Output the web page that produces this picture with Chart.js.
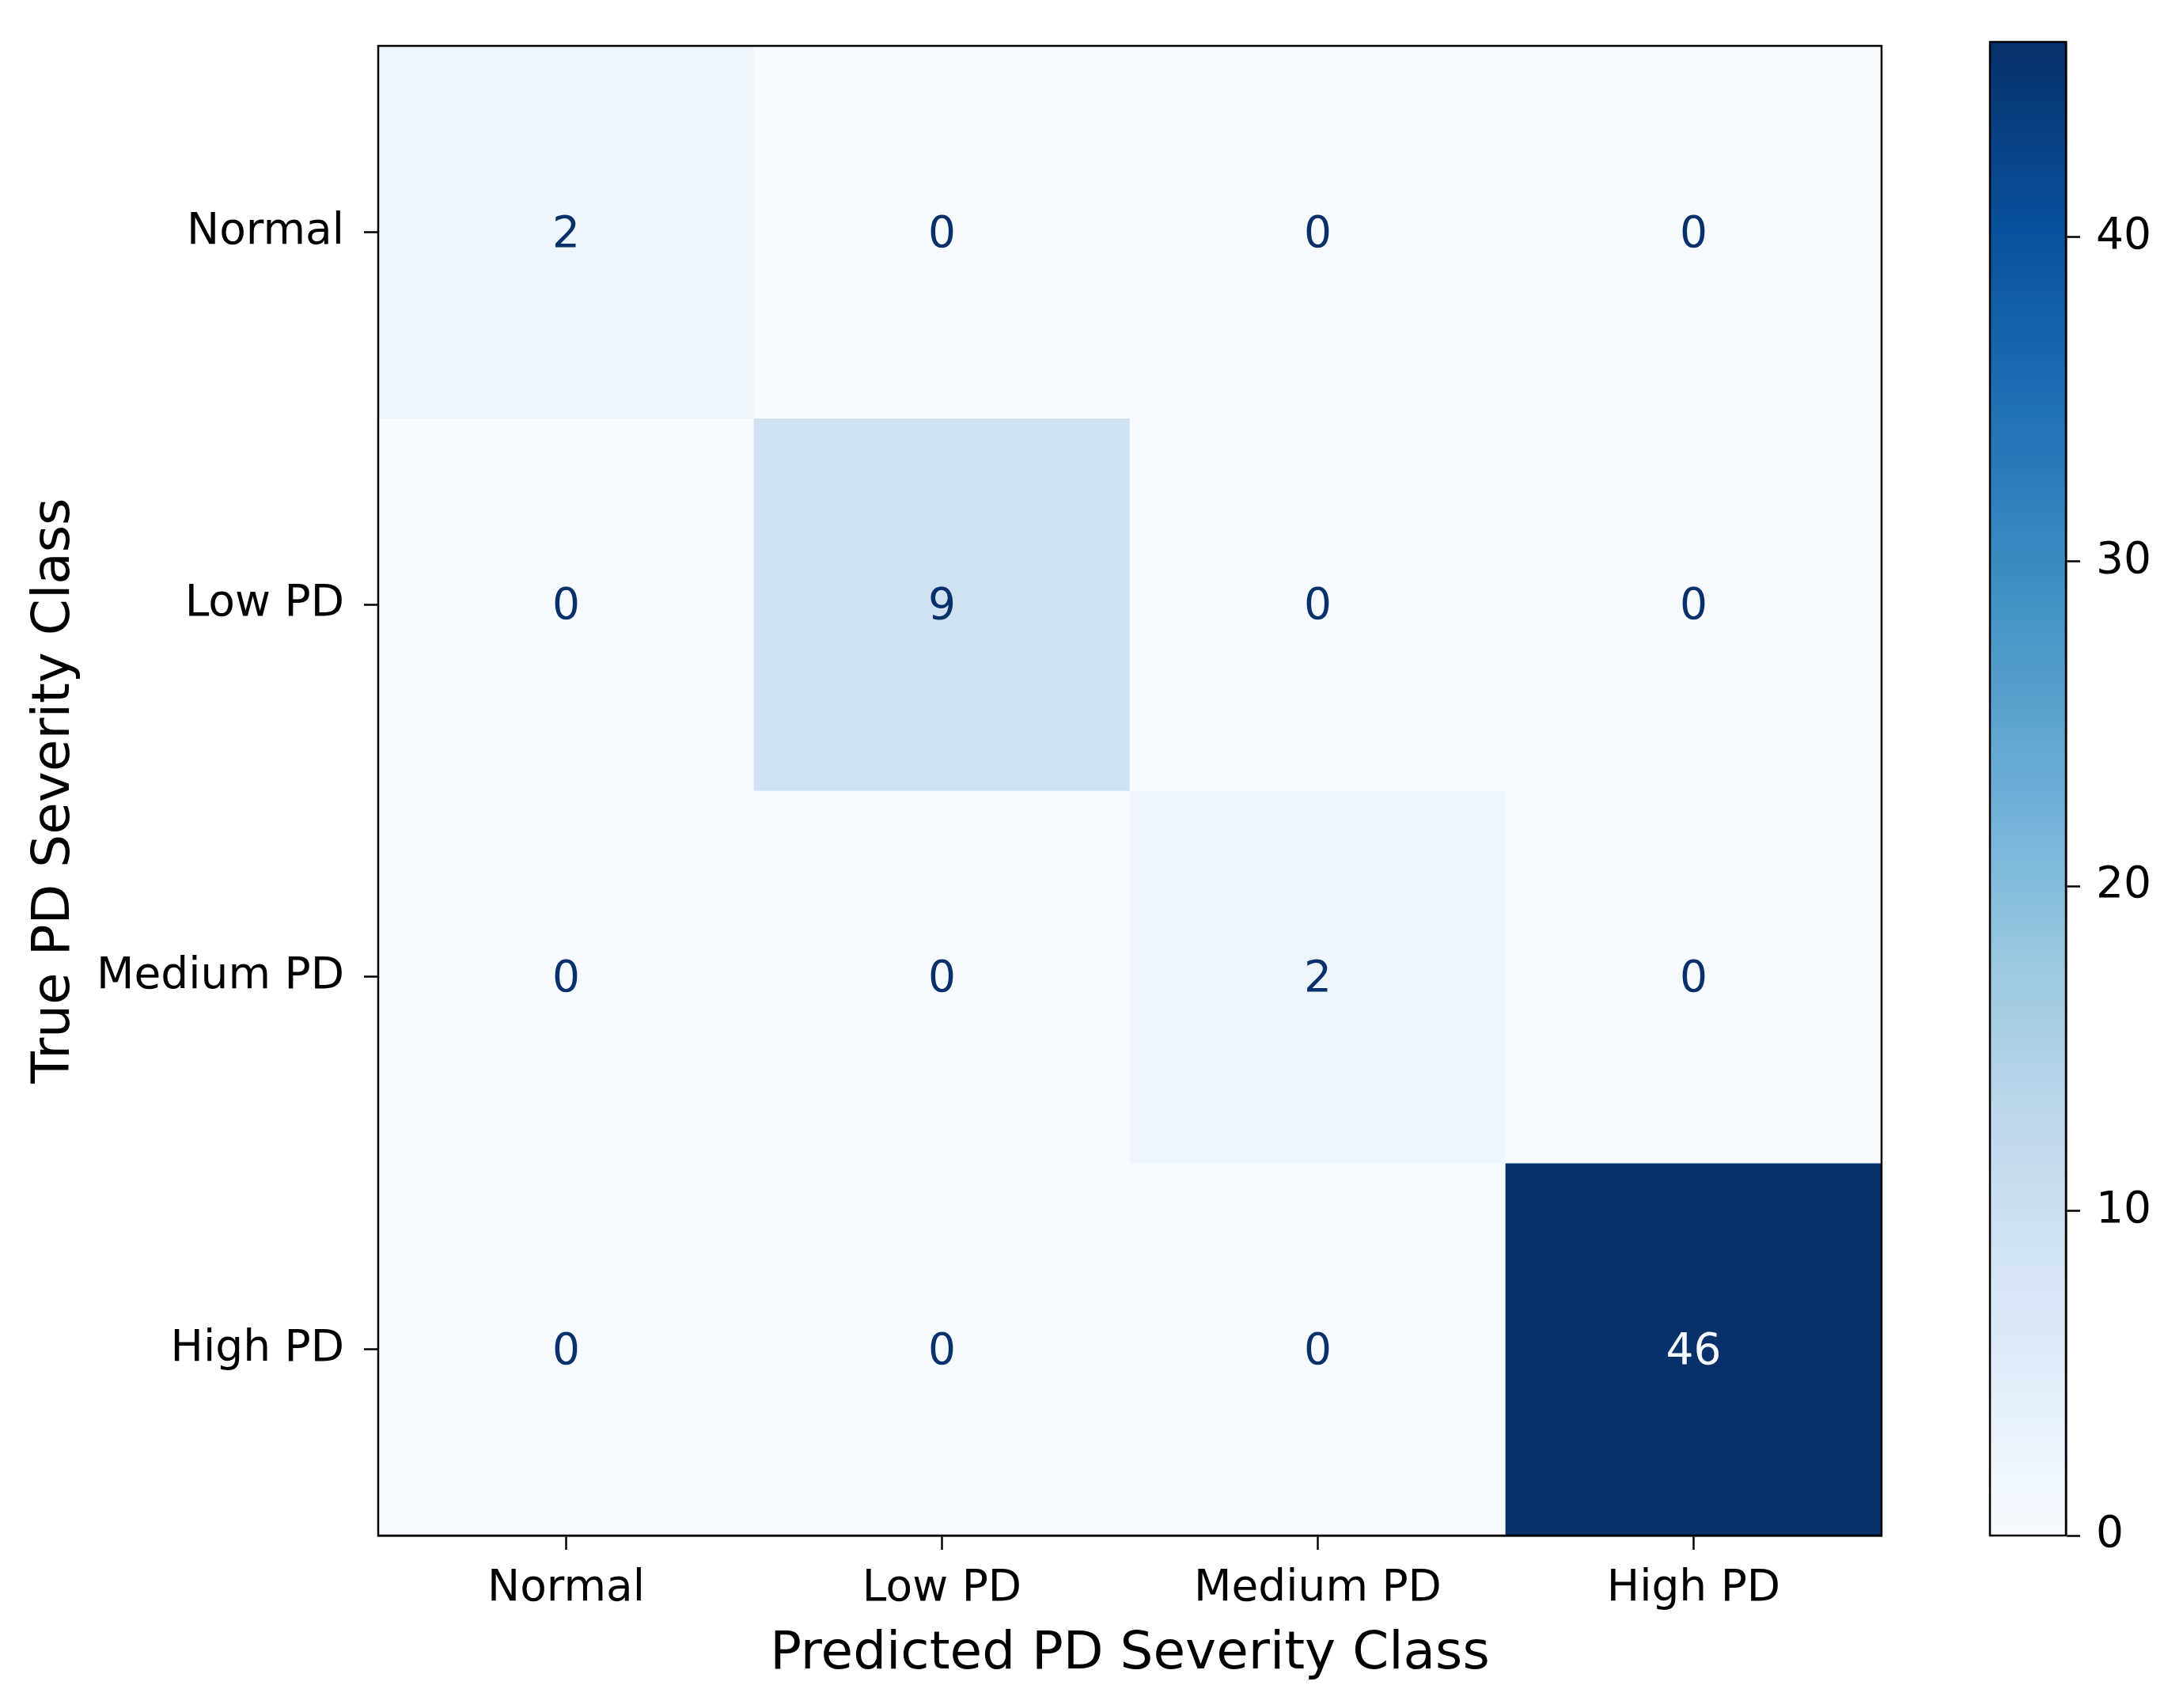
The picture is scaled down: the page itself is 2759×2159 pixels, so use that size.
<!DOCTYPE html>
<html>
<head>
<meta charset="utf-8">
<script src="https://cdn.jsdelivr.net/npm/chart.js@4"></script>
<style>
  body { margin: 0; background: #fff; }
  #wrap { position: relative; width: 2759px; height: 2159px; }
  #cm { position: absolute; left: 0; top: 0; }
  #cb { position: absolute; left: 2500px; top: 0; }
</style>
</head>
<body>
<div id="wrap">
  <canvas id="cm" width="2759" height="2159"></canvas>
  <canvas id="cb" width="259" height="2159"></canvas>
</div>
<script>
// classes and counts (rows = true class, columns = predicted class)
const predLabels = ["Normal", "Low PD", "Medium PD", "High PD"];
const trueLabels = ["Normal", "Low PD", "Medium PD", "High PD"];
const rowNormal = [2, 0, 0, 0];
const rowLow = [0, 9, 0, 0];
const rowMedium = [0, 0, 2, 0];
const rowHigh = [0, 0, 0, 46];
const cbTicks = [0, 10, 20, 30, 40];

const rows = [rowNormal, rowLow, rowMedium, rowHigh];
const vmin = 0;
const vmax = Math.max(...rows.flat());

// matplotlib "Blues"
const blues = ["#f7fbff", "#deebf7", "#c6dbef", "#9ecae1", "#6baed6", "#4292c6", "#2171b5", "#08519c", "#08306b"];

function hex2rgb(h) {
  return [1, 3, 5].map(i => parseInt(h.substr(i, 2), 16));
}
function bluesAt(t) {
  t = Math.min(1, Math.max(0, t));
  const p = t * (blues.length - 1);
  const i = Math.min(blues.length - 2, Math.floor(p));
  const f = p - i;
  const a = hex2rgb(blues[i]), b = hex2rgb(blues[i + 1]);
  const c = a.map((v, k) => Math.round(v + (b[k] - v) * f));
  return `rgb(${c[0]},${c[1]},${c[2]})`;
}

Chart.defaults.font.family = "'DejaVu Sans', sans-serif";
Chart.defaults.color = "#000";

const FONT_TICK = 55;
const FONT_TITLE = 66;
const LINE_W = 2.5;
const TICK_LEN = 18;

// black frame round the plot area
const frame = {
  id: "frame",
  afterDraw(chart) {
    const a = chart.chartArea, ctx = chart.ctx;
    ctx.save();
    ctx.strokeStyle = "#000";
    ctx.lineWidth = LINE_W;
    ctx.strokeRect(a.left, a.top, a.right - a.left, a.bottom - a.top);
    ctx.restore();
  }
};

// counts written in the cells
const cellText = {
  id: "cellText",
  afterDatasetsDraw(chart) {
    const ctx = chart.ctx, xs = chart.scales.x, ys = chart.scales.y;
    ctx.save();
    ctx.font = `${FONT_TICK}px 'DejaVu Sans'`;
    ctx.textAlign = "center";
    ctx.textBaseline = "alphabetic";
    rows.forEach((row, r) => {
      row.forEach((v, c) => {
        ctx.fillStyle = v > (vmax + vmin) / 2 ? blues[0] : blues[blues.length - 1];
        ctx.fillText(String(v), xs.getPixelForValue(c), ys.getPixelForValue(r + 0.5) + FONT_TICK * 0.33);
      });
    });
    ctx.restore();
  }
};

const datasets = rows.map((row, r) => ({
  label: trueLabels[r],
  data: row.map(() => [r, r + 1]),
  backgroundColor: row.map(v => bluesAt((v - vmin) / (vmax - vmin))),
  borderWidth: 0,
  barPercentage: 1,
  categoryPercentage: 1,
  grouped: false
}));

new Chart(document.getElementById("cm"), {
  type: "bar",
  data: { labels: predLabels, datasets },
  options: {
    responsive: false,
    devicePixelRatio: 1,
    animation: false,
    layout: { padding: { top: 43, right: 381, left: 0, bottom: 0 } },
    plugins: { legend: { display: false }, tooltip: { enabled: false } },
    scales: {
      x: {
        grid: { offset: false, drawOnChartArea: false, drawTicks: true, tickLength: TICK_LEN, tickColor: "#000", tickWidth: LINE_W },
        border: { display: true, color: "#000", width: LINE_W },
        ticks: { font: { size: FONT_TICK }, padding: 17, maxRotation: 0 },
        title: { display: true, text: "Predicted PD Severity Class", font: { size: FONT_TITLE }, padding: { top: 0, bottom: 28 } },
        afterFit(s) { s.height = 218; }
      },
      y: {
        type: "linear",
        min: 0,
        max: 4,
        reverse: true,
        afterBuildTicks(s) { s.ticks = trueLabels.map((_, i) => ({ value: i + 0.5 })); },
        grid: { drawOnChartArea: false, drawTicks: true, tickLength: TICK_LEN, tickColor: "#000", tickWidth: LINE_W },
        border: { display: true, color: "#000", width: LINE_W },
        ticks: { font: { size: FONT_TICK }, padding: 25, callback: (v, i) => trueLabels[i] },
        title: { display: true, text: "True PD Severity Class", font: { size: FONT_TITLE }, padding: { top: 30, bottom: 0 } },
        afterFit(s) { s.width = 478; }
      }
    }
  },
  plugins: [cellText, frame]
});

// colour bar
new Chart(document.getElementById("cb"), {
  type: "bar",
  data: {
    labels: [""],
    datasets: [{
      data: [[vmin, vmax]],
      backgroundColor(ctx) {
        const a = ctx.chart.chartArea;
        if (!a) return blues[4];
        const g = ctx.chart.ctx.createLinearGradient(0, a.bottom, 0, a.top);
        blues.forEach((c, i) => g.addColorStop(i / (blues.length - 1), c));
        return g;
      },
      borderWidth: 0,
      barPercentage: 1,
      categoryPercentage: 1
    }]
  },
  options: {
    responsive: false,
    devicePixelRatio: 1,
    animation: false,
    layout: { padding: { top: 43, bottom: 218, left: 15, right: 0 } },
    plugins: { legend: { display: false }, tooltip: { enabled: false } },
    scales: {
      x: { display: false },
      y: {
        position: "right",
        min: vmin,
        max: vmax,
        afterBuildTicks(s) { s.ticks = cbTicks.map(v => ({ value: v })); },
        grid: { drawOnChartArea: false, drawTicks: true, tickLength: TICK_LEN, tickColor: "#000", tickWidth: LINE_W },
        border: { display: true, color: "#000", width: LINE_W },
        ticks: { font: { size: FONT_TICK }, padding: 20 },
        afterFit(s) { s.width = 148; }
      }
    }
  },
  plugins: [frame]
});
</script>
</body>
</html>
